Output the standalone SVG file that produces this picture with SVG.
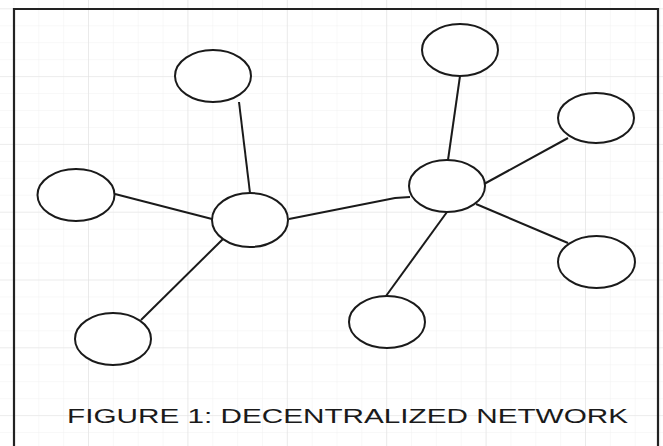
<svg xmlns="http://www.w3.org/2000/svg" width="663" height="446" viewBox="0 0 663 446">
<defs>
<pattern id="minor" patternUnits="userSpaceOnUse" x="-11.4" y="8.3" width="24.85" height="16.95">
<path d="M0 0H24.85M0 0V16.95" fill="none" stroke="#f1f1f1" stroke-width="1"/>
</pattern>
<pattern id="major" patternUnits="userSpaceOnUse" x="-11.4" y="8.3" width="99.4" height="67.8">
<path d="M0 0H99.4M0 0V67.8" fill="none" stroke="#e2e2e2" stroke-width="1.2"/>
</pattern>
</defs>
<style>
.node{fill:#ffffff;stroke:#1a1a1a;stroke-width:2}
.edge{fill:none;stroke:#1a1a1a;stroke-width:2}
.cap{font-family:"Liberation Sans",Arial,sans-serif;font-size:21px;fill:#1a1a1a}
</style>
<rect width="663" height="446" fill="#ffffff"/>
<rect width="663" height="446" fill="url(#minor)"/>
<rect width="663" height="446" fill="url(#major)"/>
<path d="M14 450V9H658V450" fill="none" stroke="#222" stroke-width="2.2"/>
<g id="connectors">
<line class="edge" x1="239" y1="102" x2="250" y2="193"/>
<line class="edge" x1="115" y1="194" x2="212" y2="219"/>
<line class="edge" x1="223" y1="239" x2="141" y2="320"/>
<polyline class="edge" points="289,219 395,198 410,197"/>
<line class="edge" x1="460" y1="76" x2="448" y2="160"/>
<line class="edge" x1="568" y1="138" x2="484" y2="184"/>
<line class="edge" x1="476" y1="204" x2="568" y2="243"/>
<line class="edge" x1="447" y1="212" x2="386" y2="296"/>
</g>
<g id="n1"><ellipse class="node" cx="213" cy="76" rx="38" ry="26"/></g>
<g id="n2"><ellipse class="node" cx="460" cy="50" rx="38" ry="26"/></g>
<g id="n3"><ellipse class="node" cx="596" cy="118" rx="38" ry="25"/></g>
<g id="n4"><ellipse class="node" cx="76" cy="195" rx="38.5" ry="26"/></g>
<g id="n5"><ellipse class="node" cx="250" cy="220" rx="38" ry="27"/></g>
<g id="n6"><ellipse class="node" cx="447" cy="186" rx="38" ry="26"/></g>
<g id="n7"><ellipse class="node" cx="596.5" cy="262" rx="38.5" ry="26"/></g>
<g id="n8"><ellipse class="node" cx="113" cy="339" rx="38" ry="26"/></g>
<g id="n9"><ellipse class="node" cx="387" cy="322" rx="38" ry="26"/></g>
<text class="cap" x="67" y="423" textLength="561" lengthAdjust="spacingAndGlyphs">FIGURE 1: DECENTRALIZED NETWORK</text>
</svg>
